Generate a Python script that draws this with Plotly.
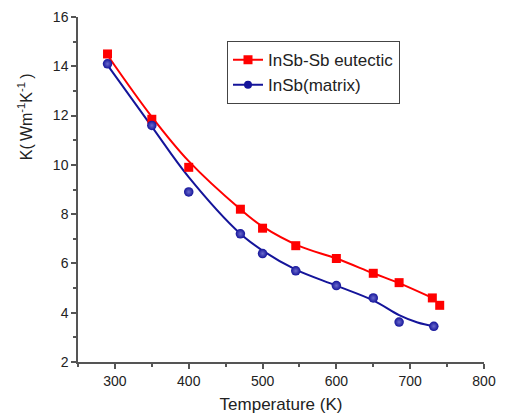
import plotly.graph_objects as go

# measured data
temp_eutectic = [290, 350, 400, 470, 500, 545, 600, 650, 685, 730, 740]
k_eutectic = [14.5, 11.85, 9.9, 8.2, 7.43, 6.72, 6.2, 5.6, 5.22, 4.6, 4.3]

temp_matrix = [290, 350, 400, 470, 500, 545, 600, 650, 685, 732]
k_matrix = [14.1, 11.6, 8.9, 7.2, 6.4, 5.7, 5.1, 4.6, 3.62, 3.45]

# fitted curves
fit_temp_eutectic = [290, 350, 400, 470, 500, 550, 600, 650, 685, 730]
fit_k_eutectic = [14.45, 11.95, 10.15, 8.2, 7.5, 6.7, 6.2, 5.6, 5.2, 4.6]

fit_temp_matrix = [290, 350, 400, 470, 500, 545, 600, 650, 685, 710, 732]
fit_k_matrix = [14.05, 11.55, 9.5, 7.2, 6.52, 5.75, 5.1, 4.5, 3.9, 3.6, 3.45]

RED = "#ff0000"
BLUE = "#14149a"
FONT = "Liberation Sans, Arial"

fig = go.Figure()
fig.add_trace(go.Scatter(x=fit_temp_eutectic, y=fit_k_eutectic, mode="lines",
                         line=dict(color=RED, width=2, shape="spline"), showlegend=False))
fig.add_trace(go.Scatter(x=fit_temp_matrix, y=fit_k_matrix, mode="lines",
                         line=dict(color=BLUE, width=2, shape="spline"), showlegend=False))
fig.add_trace(go.Scatter(x=temp_eutectic, y=k_eutectic, mode="markers",
                         marker=dict(symbol="square", size=9, color=RED), showlegend=False))
fig.add_trace(go.Scatter(x=temp_matrix, y=k_matrix, mode="markers",
                         marker=dict(symbol="circle", size=9.5, color=BLUE,
                                     gradient=dict(type="radial", color="#6a6acc")),
                         showlegend=False))
# legend entries
fig.add_trace(go.Scatter(x=[None], y=[None], mode="lines+markers", name="InSb-Sb eutectic",
                         line=dict(color=RED, width=2),
                         marker=dict(symbol="square", size=9, color=RED)))
fig.add_trace(go.Scatter(x=[None], y=[None], mode="lines+markers", name="InSb(matrix)",
                         line=dict(color=BLUE, width=2),
                         marker=dict(symbol="circle", size=8, color=BLUE)))

axis_common = dict(
    showline=True, linecolor="#555555", linewidth=1.5, mirror=False,
    ticks="outside", ticklen=5, tickwidth=1.5, tickcolor="#555555",
    showgrid=False, zeroline=False, automargin=False,
    tickfont=dict(family=FONT, size=14, color="#222222"),
)

fig.update_layout(
    width=501, height=411,
    margin=dict(l=70, r=25, t=9, b=57),
    paper_bgcolor="white", plot_bgcolor="white",
    font=dict(family=FONT, color="#222222"),
    xaxis=dict(range=[250, 800], dtick=100, tick0=300,
               minor=dict(ticks="outside", ticklen=3, dtick=50, tick0=250, tickcolor="#555555"),
               title=dict(text="Temperature (K)", font=dict(size=17), standoff=11),
               **axis_common),
    yaxis=dict(range=[2, 16], dtick=2, tick0=2,
               minor=dict(ticks="outside", ticklen=3, dtick=1, tick0=2, tickcolor="#555555"),
               **axis_common),
    legend=dict(x=0.367, y=0.93, xanchor="left", yanchor="top",
                bordercolor="#444444", borderwidth=1, bgcolor="white",
                font=dict(family=FONT, size=17, color="#222222"),
                tracegroupgap=0, itemwidth=30),
    annotations=[dict(text="K(\u2009Wm<sup>-1</sup>K<sup>-1</sup>\u2009)", textangle=-90,
                      xref="paper", yref="paper", x=-0.13, y=0.71,
                      xanchor="center", yanchor="middle", showarrow=False,
                      font=dict(family=FONT, size=16, color="#222222"))],
)

fig.write_html("out.html")
